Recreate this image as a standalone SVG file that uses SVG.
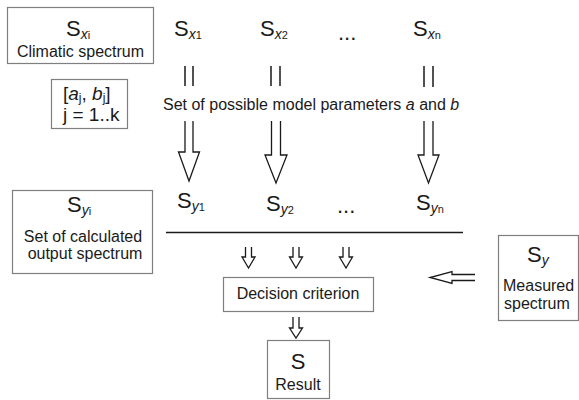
<svg xmlns="http://www.w3.org/2000/svg" width="579" height="400" viewBox="0 0 579 400">
<style>
text{font-family:"Liberation Sans",Arial,sans-serif;fill:#1a1a1a}
.t{font-size:16px}
.big{font-size:22px}
.sv{font-size:14px;font-style:italic}
.sd{font-size:11px}
.box{fill:#fff;stroke:#7f7f7f;stroke-width:1.2}
.ln{stroke:#1a1a1a;stroke-width:1.5;fill:none}
.ar{fill:#fff;stroke:#1a1a1a;stroke-width:1.3;stroke-linejoin:miter}
</style>
<rect width="579" height="400" fill="#fff"/>

<g id="climatic">
<rect class="box" x="7.5" y="7.5" width="146" height="56"/>
<text x="66" y="36"><tspan class="big">S</tspan><tspan class="sv" dy="3">x</tspan><tspan class="sd">i</tspan></text>
<text class="t" x="80.5" y="57" text-anchor="middle">Climatic spectrum</text>
</g>

<g id="params">
<rect class="box" x="51.5" y="79.5" width="76" height="49"/>
<text x="63" y="100" font-size="19">[<tspan font-style="italic">a</tspan><tspan font-size="12" dy="2">j</tspan><tspan dy="-2">, </tspan><tspan font-style="italic">b</tspan><tspan font-size="12" dy="2">j</tspan><tspan dy="-2">]</tspan></text>
<text x="63" y="121" font-size="19">j = 1..k</text>
</g>

<g id="sx">
<text x="174" y="36"><tspan class="big">S</tspan><tspan class="sv" dy="3">x</tspan><tspan class="sd">1</tspan></text>
<text x="260" y="36"><tspan class="big">S</tspan><tspan class="sv" dy="3">x</tspan><tspan class="sd">2</tspan></text>
<text class="big" x="338" y="40">...</text>
<text x="413" y="36"><tspan class="big">S</tspan><tspan class="sv" dy="3">x</tspan><tspan class="sd">n</tspan></text>
</g>

<g id="setlabel">
<text class="t" x="163" y="110">Set of possible model parameters <tspan font-style="italic">a</tspan> and <tspan font-style="italic">b</tspan></text>
</g>

<g id="sy">
<text x="177" y="208"><tspan class="big">S</tspan><tspan class="sv" dy="3">y</tspan><tspan class="sd">1</tspan></text>
<text x="266" y="211"><tspan class="big">S</tspan><tspan class="sv" dy="3">y</tspan><tspan class="sd">2</tspan></text>
<text class="big" x="337" y="213">...</text>
<text x="416" y="210"><tspan class="big">S</tspan><tspan class="sv" dy="3">y</tspan><tspan class="sd">n</tspan></text>
</g>

<g id="calculated">
<rect class="box" x="12.5" y="190.5" width="140" height="83"/>
<text x="67" y="212"><tspan class="big">S</tspan><tspan class="sv" dy="3">y</tspan><tspan class="sd">i</tspan></text>
<text class="t" x="83" y="242" text-anchor="middle">Set of calculated</text>
<text class="t" x="85" y="259" text-anchor="middle">output spectrum</text>
</g>

<g id="decision">
<rect class="box" x="223.5" y="277.5" width="150" height="34"/>
<text class="t" x="298" y="299" text-anchor="middle">Decision criterion</text>
</g>

<g id="result">
<rect class="box" x="267.5" y="340.5" width="62" height="58"/>
<text class="big" x="298" y="369" text-anchor="middle">S</text>
<text class="t" x="298" y="390" text-anchor="middle">Result</text>
</g>

<g id="measured">
<rect class="box" x="498.5" y="235.5" width="80" height="85"/>
<text x="527" y="262"><tspan class="big">S</tspan><tspan class="sv" dy="3">y</tspan></text>
<text class="t" x="503" y="291">Measured</text>
<text class="t" x="504" y="309">spectrum</text>
</g>

<g id="connectors">
<path class="ln" d="M185 66V86M193 66V86M271 66V86M280 66V86M424 66V87M433 66V87"/>
<path class="ar" d="M185 121V152H178.5L189 181L199.5 152H193V121"/>
<path class="ar" d="M271.5 121V155H265L276 183L287 155H280.5V121"/>
<path class="ar" d="M424 121V155H418L428.5 183L439 155H433V121"/>
<path d="M166 232.5H463" stroke="#1a1a1a" stroke-width="1.6"/>
<path class="ar" d="M245.5 247V257H242L248.5 268L255 257H251.5V247"/>
<path class="ar" d="M293 247V257H289.5L296 268L302.5 257H299V247"/>
<path class="ar" d="M343 247V257H339.5L346 268L352.5 257H349V247"/>
<path class="ar" d="M293 317V328H289.5L296 338L302.5 328H299V317"/>
<path class="ar" d="M475 274.5H452V271.5L430 277.5L452 283.5V280.5H475"/>
</g>
</svg>
